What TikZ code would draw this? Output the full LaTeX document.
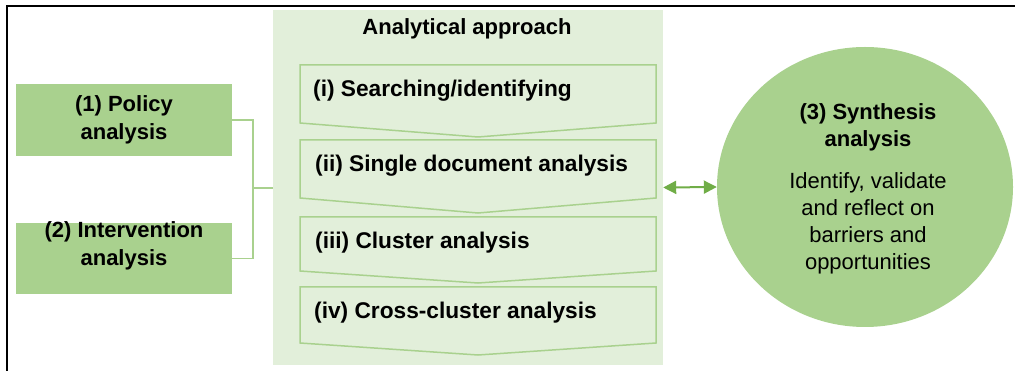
\documentclass[tikz,border=0pt]{standalone}
\usepackage{fontspec}
\setmainfont{Liberation Sans}
\usepackage{xcolor}
\usetikzlibrary{shapes.geometric, arrows.meta}

\definecolor{panelgreen}{HTML}{E2EFDA}
\definecolor{boxgreen}{HTML}{A9D18E}
\definecolor{arrowgreen}{HTML}{70AD47}

\tikzset{
  sidebox/.style={fill=boxgreen, minimum width=216pt, inner sep=0pt, align=center,
    font=\fontsize{22}{28}\selectfont\bfseries},
  chevron/.style={draw=boxgreen, fill=panelgreen, line width=1.5pt},
  steplabel/.style={anchor=base west, inner sep=0pt, font=\fontsize{22.7}{28}\selectfont\bfseries},
  link/.style={draw=boxgreen, line width=1.2pt},
}

\begin{document}
\begin{tikzpicture}[x=1pt, y=-1pt]
    \useasboundingbox (0,0) rectangle (1015,371);
    % Frame
    \draw[line width=2pt] (7,371) -- (7,6) -- (1015,6);

    % Analytical approach panel
    \node[fill=panelgreen, minimum width=390pt, minimum height=355pt, inner sep=0pt] (panel) at (468,187.5) {};
    \node[font=\fontsize{22}{26}\selectfont\bfseries] (title) at (467,29) {Analytical approach};

    % Steps
    \draw[chevron] (300,65) -- (656,65) -- (656,123) -- (478,137) -- (300,123) -- cycle;
    \draw[chevron] (300,140) -- (656,140) -- (656,198) -- (478,213) -- (300,198) -- cycle;
    \draw[chevron] (300,217) -- (656,217) -- (656,271) -- (478,283) -- (300,271) -- cycle;
    \draw[chevron] (300,287) -- (656,287) -- (656,343) -- (478,355) -- (300,343) -- cycle;
    \node[steplabel] (srch) at (313,97) {(i) Searching/identifying};
    \node[steplabel] (single) at (315,172) {(ii) Single document analysis};
    \node[steplabel] (clust) at (315,249) {(iii) Cluster analysis};
    \node[steplabel] (cross) at (314,319) {(iv) Cross-cluster analysis};

    % Policy and intervention analysis
    \node[sidebox, minimum height=72pt] (policy) at (124,120) {(1) Policy\\analysis};
    \node[sidebox, minimum height=71pt] (interv) at (124,258.5) {};
    \node[align=center, font=\fontsize{22}{28}\selectfont\bfseries] (intervtxt) at (124,246) {(2) Intervention\\analysis};

    % Connector into the panel
    \coordinate (fork) at (253,188);
    \draw[link] (policy.east) -| (fork) |- (interv.east);
    \draw[link] (fork) -- (fork -| panel.west);

    % Synthesis analysis
    \node[ellipse, fill=boxgreen, minimum width=296pt, minimum height=280pt, inner sep=0pt] (synth) at (865,187) {};
    \node[align=center, font=\fontsize{22}{27}\selectfont\bfseries] (synthtitle) at (868,127) {(3) Synthesis\\analysis};
    \node[align=center, font=\fontsize{22}{27}\selectfont] (synthtext) at (868,223) {Identify, validate\\and reflect on\\barriers and\\opportunities};

    % Link to synthesis
    \draw[arrowgreen, line width=2pt, {Triangle[length=13pt,width=13pt]}-{Triangle[length=13pt,width=13pt]}] (panel.east) -- (synth.west);
\end{tikzpicture}
\end{document}
